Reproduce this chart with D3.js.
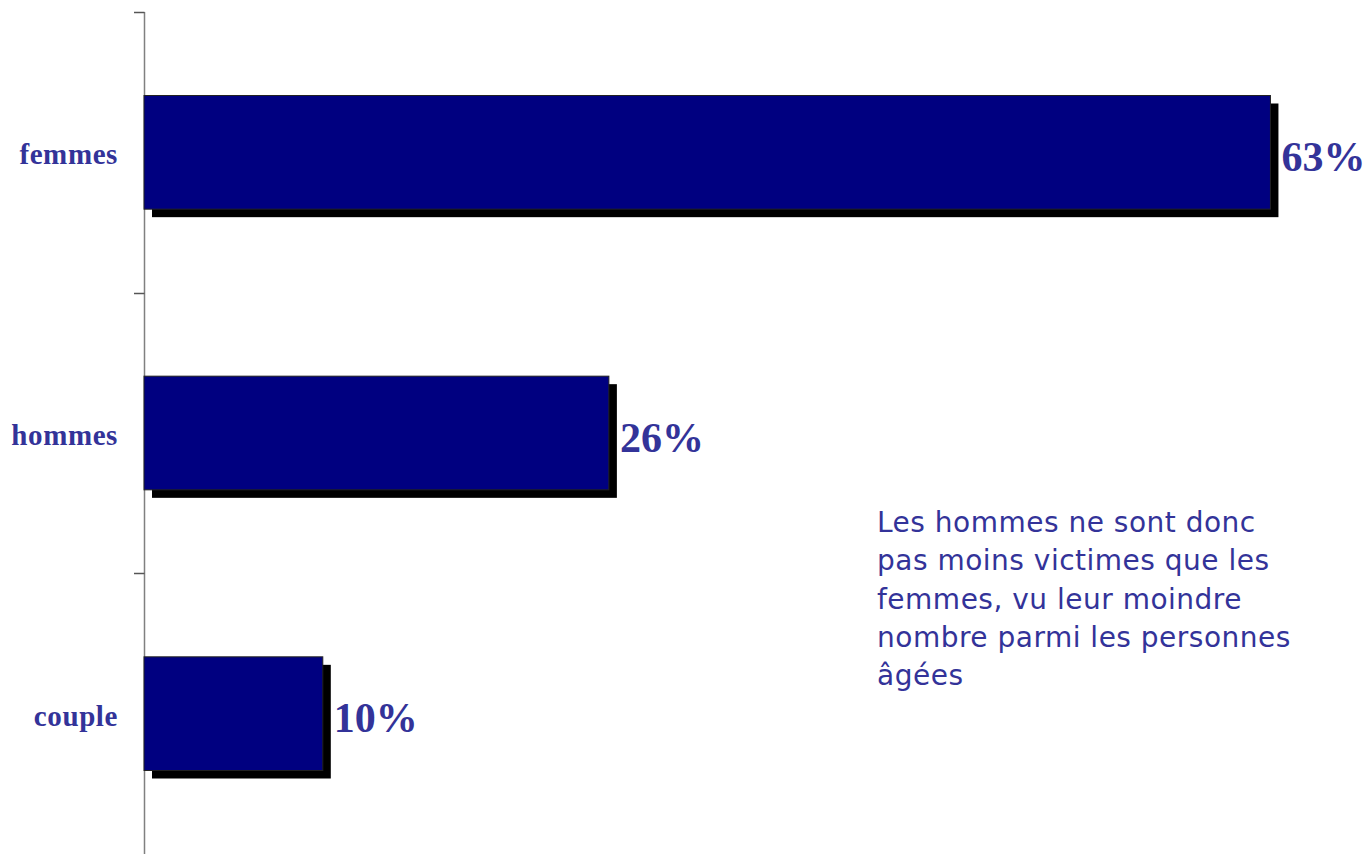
<!DOCTYPE html>
<meta charset="utf-8">
<script src="https://d3js.org/d3.v7.min.js"></script>
<style>
  body { margin: 0; background: #fff; }
  svg { display: block; }
</style>
<body>
<div id="chart"></div>
<script>
// data
var categories = ["femmes", "hommes", "couple"];
var values = [63, 26, 10];
var valueLabels = ["63%", "26%", "10%"];
var noteLines = [
  "Les hommes ne sont donc",
  "pas moins victimes que les",
  "femmes, vu leur moindre",
  "nombre parmi les personnes",
  "âgées"
];

var W = 1367, H = 854;
var textColor = "#333399";

var svg = d3.select("#chart").append("svg")
  .attr("width", W)
  .attr("height", H);

// scales
var x = d3.scaleLinear()
  .domain([0, 70])
  .range([144, 144 + 70 * 17.88]);

var y = d3.scaleBand()
  .domain(categories)
  .range([12, 854])
  .paddingInner(0.595)
  .paddingOuter(0.2975);

// category axis (ticks between bands)
var axisX = 144.5;
svg.append("line")
  .attr("x1", axisX).attr("x2", axisX)
  .attr("y1", 12).attr("y2", H)
  .attr("stroke", "#808080")
  .attr("stroke-width", 1.5);

var step = y.step();
var tickYs = d3.range(categories.length).map(function(i) { return 12 + i * step; });
svg.selectAll(".tick")
  .data(tickYs)
  .enter().append("line")
  .attr("x1", 134).attr("x2", axisX)
  .attr("y1", function(d) { return Math.round(d) + 0.5; })
  .attr("y2", function(d) { return Math.round(d) + 0.5; })
  .attr("stroke", "#555")
  .attr("stroke-width", 1.5);

// shadows
var sh = 8;
svg.selectAll(".shadow")
  .data(values)
  .enter().append("rect")
  .attr("x", x(0) + sh)
  .attr("y", function(d, i) { return y(categories[i]) + sh; })
  .attr("width", function(d) { return x(d) - x(0); })
  .attr("height", y.bandwidth())
  .attr("fill", "#000");

// bars
svg.selectAll(".bar")
  .data(values)
  .enter().append("rect")
  .attr("x", x(0))
  .attr("y", function(d, i) { return y(categories[i]); })
  .attr("width", function(d) { return x(d) - x(0); })
  .attr("height", y.bandwidth())
  .attr("fill", "#000080")
  .attr("stroke", "#222")
  .attr("stroke-width", 1);

// category labels
svg.selectAll(".cat")
  .data(categories)
  .enter().append("text")
  .attr("x", 118)
  .attr("y", function(d) { return y(d) + y.bandwidth() / 2 + 2; })
  .attr("dy", "0.35em")
  .attr("text-anchor", "end")
  .style("font-family", "'Liberation Serif', 'DejaVu Serif', serif")
  .style("font-weight", "bold")
  .style("font-size", "29px")
  .style("letter-spacing", "0.6px")
  .style("fill", textColor)
  .text(function(d) { return d; });

// value labels
svg.selectAll(".val")
  .data(values)
  .enter().append("text")
  .attr("x", function(d) { return x(d) + sh + 3; })
  .attr("y", function(d, i) { return y(categories[i]) + y.bandwidth() / 2 + 4; })
  .attr("dy", "0.35em")
  .style("font-family", "'Liberation Serif', 'DejaVu Serif', serif")
  .style("font-weight", "bold")
  .style("font-size", "42px")
  .style("fill", textColor)
  .text(function(d, i) { return valueLabels[i]; });

// note
var note = svg.append("text")
  .attr("x", 877)
  .attr("y", 532)
  .style("font-family", "'DejaVu Sans', sans-serif")
  .style("font-size", "28px")
  .style("letter-spacing", "0.5px")
  .style("fill", textColor);

note.selectAll("tspan")
  .data(noteLines)
  .enter().append("tspan")
  .attr("x", 877)
  .attr("dy", function(d, i) { return i === 0 ? 0 : 38.3; })
  .text(function(d) { return d; });
</script>
</body>
